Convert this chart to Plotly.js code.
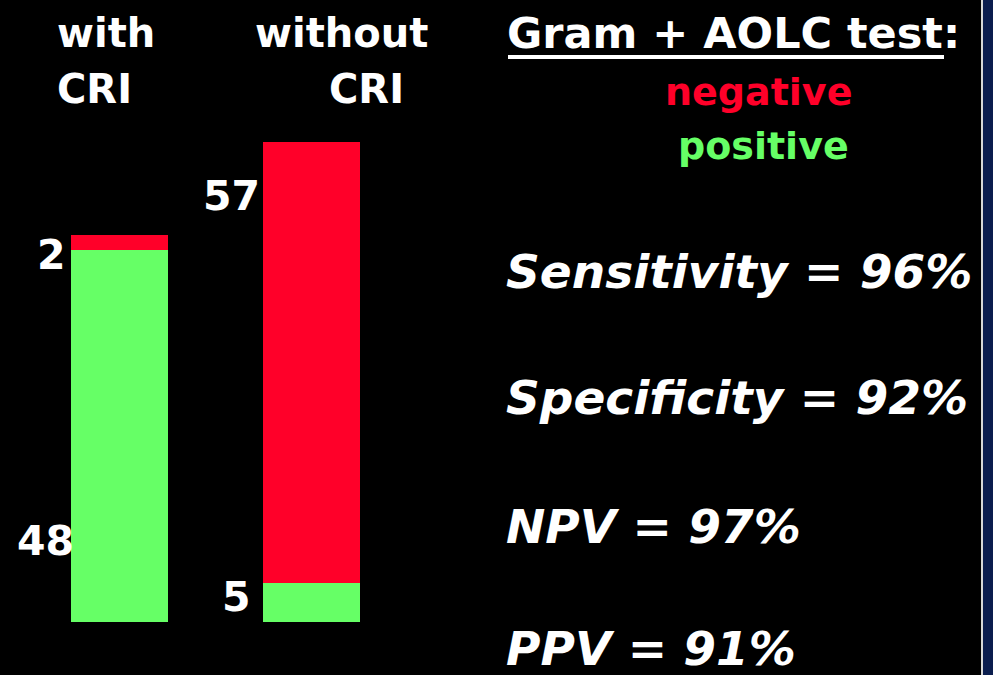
<!DOCTYPE html>
<html>
<head>
<meta charset="utf-8">
<script src="https://cdn.plot.ly/plotly-3.0.1.min.js"></script>
<style>
  html, body { margin: 0; padding: 0; background: #000; }
  #chart { width: 993px; height: 675px; }
</style>
</head>
<body>
<div id="chart"></div>
<script>
// ---- data ----
const categories = ['with CRI', 'without CRI'];
const positiveCounts = [48, 5];
const negativeCounts = [2, 57];
const legendTitle = 'Gram + AOLC test:';
const legendNames = ['negative', 'positive'];
const metricNames = ['Sensitivity', 'Specificity', 'NPV', 'PPV'];
const metricValues = [96, 92, 97, 91];

// ---- style ----
const W = 993, H = 675;
const RED = '#FF0029', GREEN = '#66FF66';
const FONT = '"Comic Sans MS", "DejaVu Sans", sans-serif';
const px = x => x / W;
const py = y => 1 - y / H;

const traces = [
  { type: 'bar', x: [0, 1], y: positiveCounts, name: legendNames[1],
    marker: { color: GREEN, line: { width: 0 } }, width: 0.505, hoverinfo: 'skip' },
  { type: 'bar', x: [0, 1], y: negativeCounts, name: legendNames[0],
    marker: { color: RED, line: { width: 0 } }, width: 0.505, hoverinfo: 'skip' }
];

const ann = [];
function txt(text, x, y, opts) {
  ann.push(Object.assign({
    text: text, xref: 'paper', yref: 'paper', x: px(x), y: py(y),
    xanchor: 'left', yanchor: 'middle', showarrow: false,
    font: { family: FONT, size: 40, color: '#ffffff', weight: 'bold' }
  }, opts || {}));
}

// category labels (two lines each)
const catLabelPos = [
  [[55, 33], [55, 89]],
  [[253, 33], [327, 89]]
];
categories.forEach((c, i) => {
  const parts = c.split(' ');
  parts.forEach((p, j) => txt('<b>' + p + '</b>', catLabelPos[i][j][0], catLabelPos[i][j][1]));
});

// value labels
const posLabelPos = [[76, 541], [253, 597]];
const negLabelPos = [[68, 255], [262, 196]];
positiveCounts.forEach((v, i) => txt('<b>' + v + '</b>', posLabelPos[i][0], posLabelPos[i][1],
  { xanchor: 'right', font: { family: FONT, size: 41, color: '#fff', weight: 'bold' } }));
negativeCounts.forEach((v, i) => txt('<b>' + v + '</b>', negLabelPos[i][0], negLabelPos[i][1],
  { xanchor: 'right', font: { family: FONT, size: 41, color: '#fff', weight: 'bold' } }));

// legend-like text
txt('<b>' + legendTitle + '</b>', 505, 33, { font: { family: FONT, size: 43, color: '#fff', weight: 'bold' } });
txt('<b>' + legendNames[0] + '</b>', 758, 92, { xanchor: 'center', font: { family: FONT, size: 38, color: RED, weight: 'bold' } });
txt('<b>' + legendNames[1] + '</b>', 763, 146, { xanchor: 'center', font: { family: FONT, size: 38, color: GREEN, weight: 'bold' } });

// metrics
const metricY = [271, 397, 526, 648];
metricNames.forEach((m, i) => txt('<b><i>' + m + ' = ' + metricValues[i] + '%</i></b>', 504, metricY[i],
  { font: { family: FONT, size: 47, color: '#fff', weight: 'bold', style: 'italic' } }));

const shapes = [
  // underline under legend title
  { type: 'line', xref: 'paper', yref: 'paper', x0: px(508), x1: px(944), y0: py(57), y1: py(57),
    line: { color: '#ffffff', width: 4 } },
  // right slide border
  { type: 'rect', xref: 'paper', yref: 'paper', x0: px(983), x1: px(994), y0: 0, y1: 1,
    fillcolor: '#0b1d4e', line: { width: 0 } },
  { type: 'line', xref: 'paper', yref: 'paper', x0: px(982), x1: px(982), y0: 0, y1: 1,
    line: { color: '#d8d8d8', width: 2 } }
];

// y scale: baseline at y=622px, ~7.75 px per unit
const pxPerUnit = 7.75;
const yMin = -(H - 622) / pxPerUnit;
const yMax = 622 / pxPerUnit;
// x scale: bar centres at 119.5px and 311.5px
const pxPerCat = 192;
const xMin = -119.5 / pxPerCat;
const xMax = (W - 119.5) / pxPerCat;

const layout = {
  width: W, height: H,
  margin: { l: 0, r: 0, t: 0, b: 0, pad: 0 },
  paper_bgcolor: '#000000', plot_bgcolor: '#000000',
  barmode: 'stack', showlegend: false,
  xaxis: { range: [xMin, xMax], visible: false, fixedrange: true },
  yaxis: { range: [yMin, yMax], visible: false, fixedrange: true },
  annotations: ann,
  shapes: shapes
};

Plotly.newPlot('chart', traces, layout, { staticPlot: true, displayModeBar: false });
</script>
</body>
</html>
